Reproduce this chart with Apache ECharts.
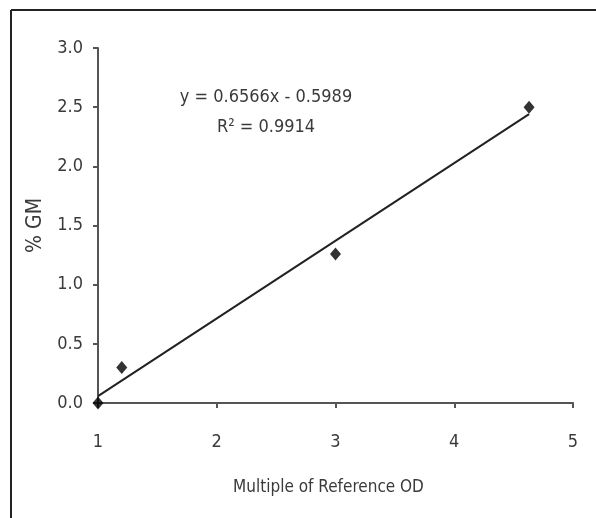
<!DOCTYPE html>
<html>
<head>
<meta charset="utf-8">
<script src="https://cdn.jsdelivr.net/npm/echarts@6/dist/echarts.min.js"></script>
<style>
  html, body { margin: 0; padding: 0; background: #fff; }
  #chart { width: 596px; height: 518px; }
</style>
</head>
<body>
<div id="chart"></div>
<script>
// measured points (multiple of reference OD, % GM)
const odMultiple = [1.0, 1.2, 3.0, 4.63];
const percentGM = [0.0, 0.3, 1.26, 2.5];

// trendline from the printed fit
const slope = 0.6566;
const intercept = -0.5989;
const trendRange = [1.0, 4.63];

const xTicks = [1, 2, 3, 4, 5];
const yTicks = [0.0, 0.5, 1.0, 1.5, 2.0, 2.5, 3.0];

const font = "'DejaVu Sans Condensed', 'Liberation Sans Narrow', 'Liberation Sans', sans-serif";
const textColor = "#3a3a3a";
const axisColor = "#555";

const points = odMultiple.map((x, i) => [x, percentGM[i]]);
const trend = trendRange.map((x) => [x, slope * x + intercept]);

const chart = echarts.init(document.getElementById("chart"));

chart.setOption({
  backgroundColor: "#fff",
  animation: false,
  grid: { left: 98, right: 23, top: 48, bottom: 115 },
  xAxis: {
    type: "value",
    min: xTicks[0],
    max: xTicks[xTicks.length - 1],
    interval: 1,
    name: "Multiple of Reference OD",
    nameLocation: "middle",
    nameGap: 76,
    nameTextStyle: { fontFamily: font, fontSize: 17, color: textColor, padding: [0, 14, 0, 0] },
    axisLine: { lineStyle: { color: axisColor, width: 2 } },
    axisTick: { show: true, length: 5, lineStyle: { color: axisColor, width: 2 } },
    axisLabel: { fontFamily: font, fontSize: 18, color: textColor, margin: 30 },
    splitLine: { show: false },
  },
  yAxis: {
    type: "value",
    min: yTicks[0],
    max: yTicks[yTicks.length - 1],
    interval: 0.5,
    name: "% GM",
    nameLocation: "middle",
    nameGap: 50,
    nameTextStyle: { fontFamily: font, fontSize: 21, color: textColor },
    axisLine: { show: true, lineStyle: { color: axisColor, width: 2 } },
    axisTick: { show: true, length: 5, lineStyle: { color: axisColor, width: 2 } },
    axisLabel: {
      fontFamily: font, fontSize: 18, color: textColor, margin: 15,
      formatter: (v) => v.toFixed(1),
    },
    splitLine: { show: false },
  },
  graphic: [
    // frame (top and left edges only)
    { type: "line", shape: { x1: 11, y1: 10, x2: 596, y2: 10 }, style: { stroke: "#222", lineWidth: 2 } },
    { type: "line", shape: { x1: 11, y1: 10, x2: 11, y2: 518 }, style: { stroke: "#222", lineWidth: 2 } },
    {
      type: "text", x: 266, y: 97,
      style: { text: "y = 0.6566x - 0.5989", font: "18px " + font, fill: textColor, align: "center", verticalAlign: "middle" },
    },
    {
      type: "text", x: 266, y: 127,
      style: { text: "R² = 0.9914", font: "18px " + font, fill: textColor, align: "center", verticalAlign: "middle" },
    },
  ],
  series: [
    {
      type: "line",
      data: trend,
      symbol: "none",
      lineStyle: { color: "#222", width: 2 },
      z: 2,
    },
    {
      type: "scatter",
      data: points,
      symbol: "diamond",
      symbolSize: [11, 13],
      itemStyle: { color: "#000" },
      z: 3,
    },
  ],
});
</script>
</body>
</html>
